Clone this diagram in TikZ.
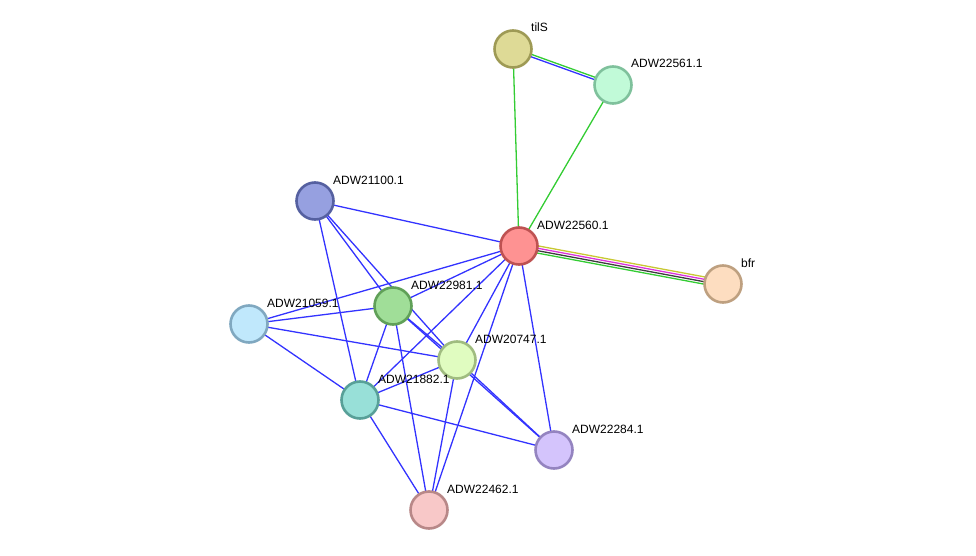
\documentclass[tikz,border=0pt]{standalone}
\usepackage{fontspec}
\setmainfont{Liberation Sans}
\usepackage{tikz}
\usetikzlibrary{calc}

\definecolor{edgeblue}{RGB}{51,51,255}
\definecolor{edgegreen}{RGB}{51,204,51}
\definecolor{edgeyellow}{RGB}{200,200,50}
\definecolor{edgemagenta}{RGB}{220,50,220}
\definecolor{edgegray}{RGB}{60,60,60}

\pgfdeclarelayer{bg}
\pgfsetlayers{bg,main}

\begin{document}
\begin{tikzpicture}[x=1pt, y=-1pt]
  \pgfmathsetmacro{\d}{1.2}   % half gap of a line pair

  \tikzset{
    prot node/.style={circle, line width=2.6pt, minimum size=37pt, inner sep=0pt},
    prot label/.style={anchor=base west, inner sep=0pt, font=\fontsize{12}{14}\selectfont},
    blue edge/.style={edgeblue, line width=1.3pt},
    green edge/.style={edgegreen, line width=1.3pt},
    yellow edge/.style={edgeyellow, line width=1.3pt},
    magenta edge/.style={edgemagenta, line width=1.3pt},
    gray edge/.style={edgegray, line width=1.3pt},
  }

  \newcommand{\drawprot}[6]{
    \node[prot node, fill=#4, draw=#5] (#1) at (#2,#3) {};
    \node[prot label] (#1L) at ($(#1)+(18,-17)$) {#6};
  }

  \useasboundingbox (0,0) rectangle (976,556);

  % proteins
  \drawprot{tilS}{513}{49}{{rgb,255:red,222;green,218;blue,150}}{{rgb,255:red,158;green,154;blue,85}}{tilS}
  \drawprot{A22561}{613}{85}{{rgb,255:red,193;green,250;blue,216}}{{rgb,255:red,127;green,193;blue,156}}{ADW22561.1}
  \drawprot{A21100}{315}{201}{{rgb,255:red,150;green,160;blue,224}}{{rgb,255:red,85;green,96;blue,160}}{ADW21100.1}
  \drawprot{A22560}{519}{246}{{rgb,255:red,254;green,146;blue,146}}{{rgb,255:red,190;green,82;blue,82}}{ADW22560.1}
  \drawprot{bfr}{723}{284}{{rgb,255:red,253;green,221;blue,192}}{{rgb,255:red,190;green,160;blue,128}}{bfr}
  \drawprot{A22981}{393}{306}{{rgb,255:red,160;green,222;blue,152}}{{rgb,255:red,96;green,160;blue,88}}{ADW22981.1}
  \drawprot{A21059}{249}{324}{{rgb,255:red,192;green,232;blue,252}}{{rgb,255:red,128;green,168;blue,192}}{ADW21059.1}
  \drawprot{A20747}{457}{360}{{rgb,255:red,224;green,252;blue,192}}{{rgb,255:red,160;green,188;blue,128}}{ADW20747.1}
  \drawprot{A21882}{360}{400}{{rgb,255:red,152;green,224;blue,216}}{{rgb,255:red,88;green,160;blue,152}}{ADW21882.1}
  \drawprot{A22284}{554}{450}{{rgb,255:red,212;green,196;blue,252}}{{rgb,255:red,148;green,132;blue,192}}{ADW22284.1}
  \drawprot{A22462}{429}{510}{{rgb,255:red,248;green,200;blue,200}}{{rgb,255:red,184;green,136;blue,136}}{ADW22462.1}

  \begin{pgfonlayer}{bg}
    % single blue links
    \foreach \a/\b in {A22560/A21100, A22560/A21059, A22560/A22981, A22560/A21882,
                       A22560/A20747, A22560/A22462, A22560/A22284,
                       A21100/A22981, A21100/A20747, A21100/A21882,
                       A21059/A22981, A21059/A20747, A21059/A21882,
                       A22981/A21882, A22981/A22462, A22981/A20747, A22981/A22284,
                       A21882/A20747, A21882/A22284, A21882/A22462,
                       A20747/A22462, A20747/A22284}
      \draw[blue edge] (\a.center) -- (\b.center);
    % single green links
    \draw[green edge] (tilS.center) -- (A22560.center);
    \draw[green edge] (A22561.center) -- (A22560.center);
    % tilS pair
    \draw[green edge] ($(tilS)!\d pt!90:(A22561)$) -- ($(A22561)!\d pt!-90:(tilS)$);
    \draw[blue edge] ($(tilS)!\d pt!-90:(A22561)$) -- ($(A22561)!\d pt!90:(tilS)$);
    % bfr bundle
    \draw[yellow edge] ($(A22560)!3*\d pt!90:(bfr)$) -- ($(bfr)!3*\d pt!-90:(A22560)$);
    \draw[magenta edge] ($(A22560)!\d pt!90:(bfr)$) -- ($(bfr)!\d pt!-90:(A22560)$);
    \draw[gray edge] ($(A22560)!\d pt!-90:(bfr)$) -- ($(bfr)!\d pt!90:(A22560)$);
    \draw[green edge] ($(A22560)!3*\d pt!-90:(bfr)$) -- ($(bfr)!3*\d pt!90:(A22560)$);
  \end{pgfonlayer}
\end{tikzpicture}
\end{document}
